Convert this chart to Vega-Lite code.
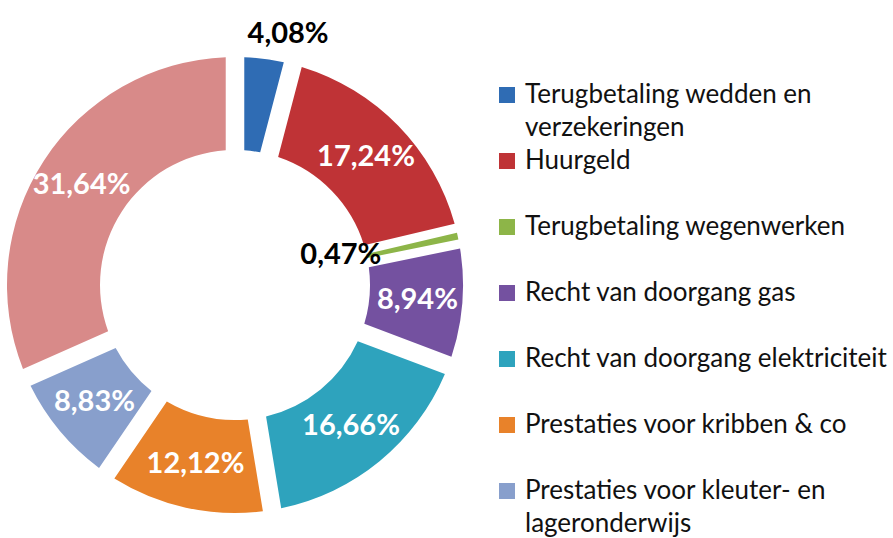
{
  "$schema": "https://vega.github.io/schema/vega-lite/v6.json",
  "width": 470,
  "height": 506,
  "autosize": {"type": "none"},
  "padding": {"left": 0, "top": 32, "right": 423, "bottom": 0},
  "background": "white",
  "config": {
    "view": {"stroke": null},
    "font": "Lato",
    "style": {"guide-label": {"lineHeight": 33, "dy": -13}}
  },
  "data": {
    "values": [
      {"idx": 1, "cat": "Terugbetaling wedden en verzekeringen", "pct": 4.08, "label": "4,08%"},
      {"idx": 2, "cat": "Huurgeld", "pct": 17.24, "label": "17,24%"},
      {"idx": 3, "cat": "Terugbetaling wegenwerken", "pct": 0.47, "label": "0,47%"},
      {"idx": 4, "cat": "Recht van doorgang gas", "pct": 8.94, "label": "8,94%"},
      {"idx": 5, "cat": "Recht van doorgang elektriciteit", "pct": 16.66, "label": "16,66%"},
      {"idx": 6, "cat": "Prestaties voor kribben & co", "pct": 12.12, "label": "12,12%"},
      {"idx": 7, "cat": "Prestaties voor kleuter- en lageronderwijs", "pct": 8.83, "label": "8,83%"},
      {"idx": 8, "cat": "Overige", "pct": 31.64, "label": "31,64%"}
    ]
  },
  "encoding": {
    "theta": {"field": "pct", "type": "quantitative", "stack": true},
    "order": {"field": "idx", "type": "quantitative"}
  },
  "layer": [
    {
      "mark": {"type": "arc", "innerRadius": 135, "outerRadius": 228, "padAngle": 0.07},
      "encoding": {
        "color": {
          "field": "cat",
          "type": "nominal",
          "scale": {
            "domain": ["Terugbetaling wedden en verzekeringen", "Huurgeld", "Terugbetaling wegenwerken", "Recht van doorgang gas", "Recht van doorgang elektriciteit", "Prestaties voor kribben & co", "Prestaties voor kleuter- en lageronderwijs", "Overige"],
            "range": ["#2f6cb4", "#bf3336", "#8db548", "#7451a0", "#2ea3bd", "#e8822a", "#889fcc", "#d88a89"]
          },
          "legend": {
            "title": null,
            "orient": "none",
            "legendX": 494,
            "legendY": 50,
            "values": ["Terugbetaling wedden en verzekeringen", "Huurgeld", "Terugbetaling wegenwerken", "Recht van doorgang gas", "Recht van doorgang elektriciteit", "Prestaties voor kribben & co", "Prestaties voor kleuter- en lageronderwijs"],
            "symbolType": "square",
            "symbolSize": 256,
            "symbolStrokeWidth": 0,
            "labelFont": "Lato",
            "labelFontSize": 26,
            "labelColor": "#111111",
            "labelLimit": 420,
            "labelBaseline": "top",
            "labelOffset": 5,
            "gridAlign": "all",
            "rowPadding": 7,
            "padding": 0,
            "labelExpr": "datum.label == 'Terugbetaling wedden en verzekeringen' ? ['Terugbetaling wedden en', 'verzekeringen'] : datum.label == 'Prestaties voor kleuter- en lageronderwijs' ? ['Prestaties voor kleuter- en', 'lageronderwijs'] : datum.label"
          }
        }
      }
    },
    {
      "mark": {"type": "arc", "innerRadius": 135, "outerRadius": 228, "color": "#8db548"},
      "encoding": {
        "fillOpacity": {"condition": {"test": "datum.cat == 'Terugbetaling wegenwerken'", "value": 1}, "value": 0}
      }
    },
    {
      "mark": {"type": "text", "radius": 183, "fontSize": 29, "fontWeight": "bold", "font": "Lato", "fill": "white"},
      "encoding": {
        "text": {"field": "label"},
        "opacity": {"condition": {"test": "datum.cat == 'Terugbetaling wedden en verzekeringen' || datum.cat == 'Terugbetaling wegenwerken'", "value": 0}, "value": 1}
      }
    },
    {
      "mark": {"type": "text", "radius": 257, "thetaOffset": 0.08, "fontSize": 29, "fontWeight": "bold", "font": "Lato", "fill": "black"},
      "encoding": {
        "text": {"field": "label"},
        "opacity": {"condition": {"test": "datum.cat == 'Terugbetaling wedden en verzekeringen'", "value": 1}, "value": 0}
      }
    },
    {
      "mark": {"type": "text", "radius": 110, "thetaOffset": -0.06, "fontSize": 29, "fontWeight": "bold", "font": "Lato", "fill": "black"},
      "encoding": {
        "text": {"field": "label"},
        "opacity": {"condition": {"test": "datum.cat == 'Terugbetaling wegenwerken'", "value": 1}, "value": 0}
      }
    }
  ]
}
